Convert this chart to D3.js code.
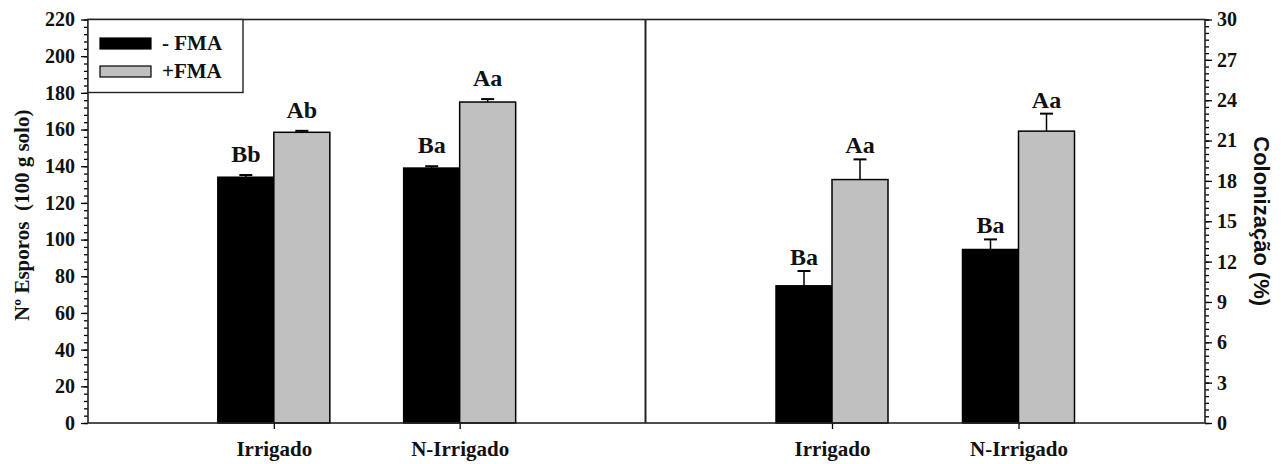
<!DOCTYPE html>
<html><head><meta charset="utf-8">
<script src="https://cdn.jsdelivr.net/npm/d3@7"></script>
<style>body{margin:0;background:#fff}svg{display:block}</style>
</head><body>
<svg id="c" width="1284" height="464"></svg>
<script>
const categories = ["Irrigado", "N-Irrigado"];
const series = ["- FMA", "+FMA"];
const esporosMean = [[134, 139], [158.5, 175]];   // [series][category]
const esporosErr  = [[1.2, 1.0], [0.8, 1.6]];
const esporosLabels = [["Bb", "Ba"], ["Ab", "Aa"]];
const colonMean = [[10.2, 12.9], [18.1, 21.7]];
const colonErr  = [[1.1, 0.75], [1.5, 1.3]];
const colonLabels = [["Ba", "Ba"], ["Aa", "Aa"]];
const leftTicks = [0,20,40,60,80,100,120,140,160,180,200,220];
const rightTicks = [0,3,6,9,12,15,18,21,24,27,30];
const colors = ["#000000", "#c0c0c0"];

const svg = d3.select("#c");
const yTop = 19.5, yBot = 423, x0 = 88, xMid = 645.5, x1 = 1205;
const serif = "'Liberation Serif','Times New Roman',serif";

const yL = d3.scaleLinear().domain([0,220]).range([yBot, yTop]);
const yR = d3.scaleLinear().domain([0,30]).range([yBot, yTop]);
const xL = d3.scalePoint().domain(categories).range([x0, xMid]).padding(1);
const xR = d3.scalePoint().domain(categories).range([xMid, x1]).padding(1);
const barW = 56;

function panel(xs, ys, means, errs, labels, gap){
  const g = svg.append("g");
  series.forEach((s, si) => {
    categories.forEach((c, ci) => {
      const v = means[si][ci], e = errs[si][ci];
      const bx = xs(c) + (si === 0 ? -barW : 0);
      g.append("rect").attr("x", bx).attr("y", ys(v)).attr("width", barW)
        .attr("height", ys(0) - ys(v)).attr("fill", colors[si])
        .attr("stroke", "#000").attr("stroke-width", 1.5);
      const cx = bx + barW/2;
      g.append("line").attr("x1", cx).attr("x2", cx).attr("y1", ys(v)).attr("y2", ys(v+e))
        .attr("stroke", "#000").attr("stroke-width", 1.5);
      g.append("line").attr("x1", cx-6.5).attr("x2", cx+6.5).attr("y1", ys(v+e)).attr("y2", ys(v+e))
        .attr("stroke", "#000").attr("stroke-width", 2);
      g.append("text").attr("x", cx).attr("y", ys(v+e) - gap)
        .attr("text-anchor", "middle").attr("font-family", serif).attr("font-weight", "bold")
        .attr("font-size", 24).attr("fill", "#111").text(labels[si][ci]);
    });
  });
  const xa = svg.append("g").attr("transform", `translate(0,${yBot})`)
    .call(d3.axisBottom(xs).tickSize(6).tickSizeOuter(0).tickPadding(12));
  xa.select(".domain").remove();
  xa.selectAll("line").attr("stroke-width", 1.3);
  xa.selectAll("text").attr("font-family", serif).attr("font-weight", "bold")
    .attr("font-size", 21).attr("fill", "#111");
}

panel(xL, yL, esporosMean, esporosErr, esporosLabels, 13);
panel(xR, yR, colonMean, colonErr, colonLabels, 6);

const lMinor = svg.append("g").attr("transform", `translate(${x0},0)`)
  .call(d3.axisLeft(yL).tickValues(d3.range(0, 221, 4)).tickSize(4).tickFormat(""));
lMinor.select(".domain").remove();
const lMajor = svg.append("g").attr("transform", `translate(${x0},0)`)
  .call(d3.axisLeft(yL).tickValues(leftTicks).tickSize(7).tickSizeOuter(0).tickPadding(6));
lMajor.select(".domain").remove();
lMajor.selectAll("text").attr("font-family", serif).attr("font-weight","bold").attr("font-size",20).attr("fill","#111");

const rMinor = svg.append("g").attr("transform", `translate(${x1},0)`)
  .call(d3.axisRight(yR).tickValues(d3.range(0, 30.01, 0.5)).tickSize(4).tickFormat(""));
rMinor.select(".domain").remove();
const rMajor = svg.append("g").attr("transform", `translate(${x1},0)`)
  .call(d3.axisRight(yR).tickValues(rightTicks).tickSize(7).tickSizeOuter(0).tickPadding(5));
rMajor.select(".domain").remove();
rMajor.selectAll("text").attr("font-family", serif).attr("font-weight","bold").attr("font-size",20).attr("fill","#111");
svg.selectAll(".tick line").attr("stroke-width", 1.3);

svg.append("rect").attr("x", x0).attr("y", yTop).attr("width", x1 - x0).attr("height", yBot - yTop)
  .attr("fill", "none").attr("stroke", "#222").attr("stroke-width", 1.6);
svg.append("line").attr("x1", xMid).attr("x2", xMid).attr("y1", yTop).attr("y2", yBot)
  .attr("stroke", "#222").attr("stroke-width", 2);

svg.append("text").attr("transform", `translate(29,${(yTop+yBot)/2 - 6}) rotate(-90)`)
  .attr("text-anchor", "middle").attr("font-family", serif).attr("font-weight","bold")
  .attr("font-size", 21).attr("fill","#111").attr("xml:space","preserve").text("Nº Esporos  (100 g solo)");
svg.append("text").attr("transform", `translate(1254,${(yTop+yBot)/2}) rotate(90)`)
  .attr("text-anchor", "middle").attr("font-family", "'Liberation Sans',Arial,sans-serif").attr("font-weight","bold")
  .attr("font-size", 22).attr("fill","#111").text("Colonização (%)");

const lg = svg.append("g");
lg.append("rect").attr("x", x0).attr("y", yTop).attr("width", 155).attr("height", 73)
  .attr("fill", "#fff").attr("stroke", "#222").attr("stroke-width", 1.4);
series.forEach((s, i) => {
  const yy = [38, 66][i];
  lg.append("rect").attr("x", 100).attr("y", yy).attr("width", 51).attr("height", 11)
    .attr("fill", colors[i]).attr("stroke", "#000").attr("stroke-width", 1.2);
  lg.append("text").attr("x", 162).attr("y", yy + 12).attr("font-family", serif)
    .attr("font-weight","bold").attr("font-size", 21).attr("fill","#111").text(s);
});
</script>
</body></html>
